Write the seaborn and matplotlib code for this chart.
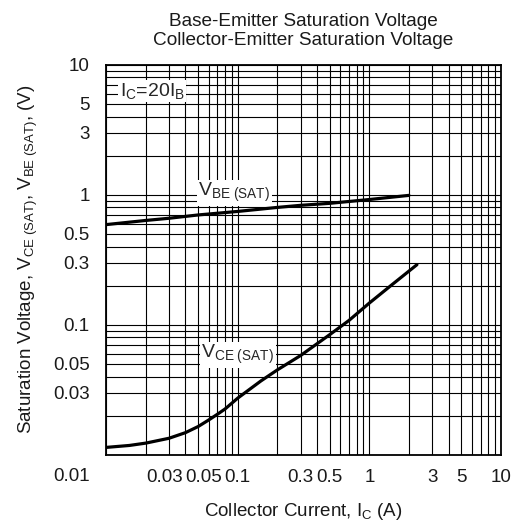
import matplotlib
matplotlib.use("Agg")
import matplotlib.pyplot as plt
from matplotlib.ticker import FixedLocator, LogLocator, NullFormatter
from matplotlib.transforms import ScaledTranslation
import seaborn as sns
import pandas as pd

# values (A, V)
vbe_ic = [0.01, 0.02, 0.03, 0.05, 0.1, 0.2, 0.3, 0.5, 1.0, 2.0]
vbe_v = [0.59, 0.635, 0.66, 0.70, 0.745, 0.80, 0.83, 0.86, 0.92, 0.99]

vce_ic = [0.01, 0.015, 0.02, 0.03, 0.04, 0.05, 0.06, 0.07, 0.08, 0.1,
          0.15, 0.2, 0.3, 0.5, 0.7, 1.0, 1.5, 2.3]
vce_v = [0.0114, 0.0118, 0.0123, 0.0134, 0.0148, 0.0165, 0.0185, 0.0205,
         0.0225, 0.0273, 0.037, 0.045, 0.058, 0.084, 0.108, 0.147, 0.205, 0.29]

xtick_vals = [0.03, 0.05, 0.1, 0.3, 0.5, 1, 3, 5, 10]
xtick_text = ["0.03", "0.05", "0.1", "0.3", "0.5", "1", "3", "5", "10"]
ytick_vals = [0.03, 0.05, 0.1, 0.3, 0.5, 1, 3, 5, 10]
ytick_text = ["0.03", "0.05", "0.1", "0.3", "0.5", "1", "3", "5", "10"]

df = pd.concat([
    pd.DataFrame({"ic": vbe_ic, "v": vbe_v, "curve": "VBE"}),
    pd.DataFrame({"ic": vce_ic, "v": vce_v, "curve": "VCE"}),
])

sns.set_style("white")
plt.rcParams["font.family"] = ["Liberation Sans", "DejaVu Sans"]
plt.rcParams["mathtext.fontset"] = "custom"
plt.rcParams["mathtext.rm"] = "Liberation Sans"
plt.rcParams["mathtext.it"] = "Liberation Sans"
plt.rcParams["mathtext.default"] = "regular"

fig = plt.figure(figsize=(5.18, 5.27), dpi=100)
ax = fig.add_axes([0.205, 0.137, 0.762, 0.740])

sns.lineplot(data=df, x="ic", y="v", units="curve", estimator=None,
             color="black", lw=2.3, ax=ax, zorder=5, sort=False)

ax.set_xscale("log")
ax.set_yscale("log")
ax.set_xlim(0.01, 10)
ax.set_ylim(0.01, 10)

ax.xaxis.set_major_locator(FixedLocator(xtick_vals))
ax.set_xticklabels(xtick_text)
ax.yaxis.set_major_locator(FixedLocator(ytick_vals))
ax.set_yticklabels(ytick_text)
ax.xaxis.set_minor_locator(LogLocator(base=10, subs=range(1, 10), numticks=20))
ax.yaxis.set_minor_locator(LogLocator(base=10, subs=range(1, 10), numticks=20))
ax.xaxis.set_minor_formatter(NullFormatter())
ax.yaxis.set_minor_formatter(NullFormatter())
ax.tick_params(which="both", length=0, labelsize=13.5, colors="#1a1a1a")
ax.tick_params(axis="x", pad=10)
ax.tick_params(axis="y", pad=12)

# crowded labels sit side by side in the reference
nudges = {"0.03": -4, "0.05": 5}
for lab in ax.get_xticklabels():
    dx = nudges.get(lab.get_text())
    if dx:
        lab.set_transform(lab.get_transform() + ScaledTranslation(dx / 100, 0, fig.dpi_scale_trans))

ax.grid(which="both", color="black", lw=0.8)
ax.set_axisbelow(True)
for s in ax.spines.values():
    s.set_color("black")
    s.set_linewidth(1.3)

ax.annotate("0.01", xy=(0, 0), xycoords="axes fraction", xytext=(-16, -13),
            textcoords="offset pixels", ha="right", va="top", fontsize=13.5,
            color="#1a1a1a")

box = dict(facecolor="white", edgecolor="none", pad=1.0)
ax.text(0.094, 1.04, r"V$_{BE\ (SAT)}$", fontsize=14, ha="center",
        va="center", bbox=box, zorder=6)
ax.text(0.100, 0.059, r"V$_{CE\ (SAT)}$", fontsize=14, ha="center",
        va="center", bbox=box, zorder=6)
ax.text(0.0224, 6.3, r"I$_C$=20I$_B$", fontsize=14, ha="center",
        va="center", bbox=box, zorder=6)

ax.set_title("Base-Emitter Saturation Voltage\nCollector-Emitter Saturation Voltage",
             fontsize=13.7, pad=14, color="#1a1a1a", linespacing=1.2)
ax.set_xlabel(r"Collector Current, I$_C$ (A)", fontsize=13.5, labelpad=11,
              color="#1a1a1a")
ax.set_ylabel(r"Saturation Voltage, V$_{CE\ (SAT)}$, V$_{BE\ (SAT)}$, (V)",
              fontsize=13.5, labelpad=9, color="#1a1a1a")

fig.savefig("out.png", dpi=100)
